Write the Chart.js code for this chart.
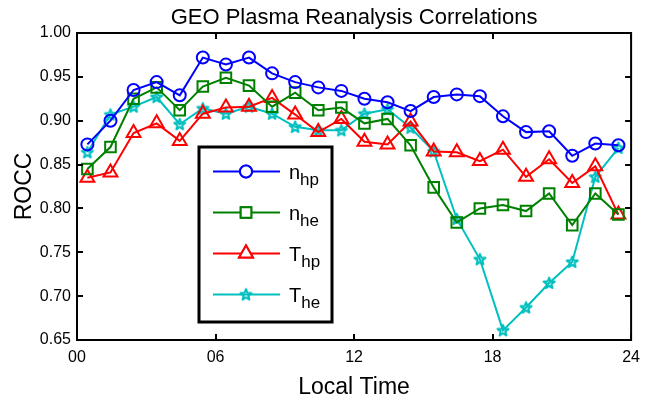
<!DOCTYPE html>
<html>
<head>
<meta charset="utf-8">
<title>GEO Plasma Reanalysis Correlations</title>
<script src="https://cdn.jsdelivr.net/npm/chart.js@4.4.1/dist/chart.umd.min.js"></script>
<style>
  html, body { margin: 0; padding: 0; background: #fff; }
  #wrap { width: 648px; height: 401px; }
</style>
</head>
<body>
<div id="wrap"><canvas id="rocc" width="648" height="401"></canvas></div>
<script>
// local time of each point (hours)
const localTime = [0.45, 1.45, 2.45, 3.45, 4.45, 5.45, 6.45, 7.45, 8.45, 9.45, 10.45, 11.45,
                   12.45, 13.45, 14.45, 15.45, 16.45, 17.45, 18.45, 19.45, 20.45, 21.45, 22.45, 23.45];

const nHp = [0.873, 0.900, 0.935, 0.944, 0.929, 0.972, 0.964, 0.972, 0.954, 0.944, 0.938, 0.934,
             0.925, 0.921, 0.911, 0.927, 0.930, 0.928, 0.905, 0.887, 0.888, 0.860, 0.874, 0.872];
const nHe = [0.845, 0.870, 0.925, 0.938, 0.912, 0.939, 0.949, 0.940, 0.916, 0.932, 0.912, 0.915,
             0.897, 0.902, 0.872, 0.824, 0.784, 0.800, 0.804, 0.797, 0.817, 0.781, 0.817, 0.793];
const tHp = [0.835, 0.841, 0.886, 0.897, 0.877, 0.908, 0.915, 0.916, 0.926, 0.907, 0.887, 0.902,
             0.876, 0.873, 0.899, 0.865, 0.864, 0.854, 0.867, 0.836, 0.856, 0.829, 0.848, 0.793];
const tHe = [0.864, 0.907, 0.916, 0.927, 0.896, 0.914, 0.908, 0.916, 0.908, 0.893, 0.889, 0.889,
             0.908, 0.913, 0.892, 0.865, 0.788, 0.742, 0.661, 0.687, 0.715, 0.739, 0.836, 0.869];

const xTicks = [0, 6, 12, 18, 24];
const yTicks = [0.65, 0.70, 0.75, 0.80, 0.85, 0.90, 0.95, 1.00];

// legend names: main letter + subscript
const seriesNames = [["n", "hp"], ["n", "he"], ["T", "hp"], ["T", "he"]];
const chartTitle = "GEO Plasma Reanalysis Correlations";

const FONT = '"Liberation Sans", Arial, Helvetica, sans-serif';

// matlab style pentagram marker
function makeStar(color) {
    const c = document.createElement("canvas");
    c.width = 16;
    c.height = 16;
    const g = c.getContext("2d");
    g.strokeStyle = color;
    g.lineWidth = 2;
    g.lineJoin = "round";
    g.beginPath();
    for (let i = 0; i < 10; i++) {
        const r = i % 2 === 0 ? 5.8 : 2.4;
        const ang = -Math.PI / 2 + i * Math.PI / 5;
        const px = 8 + r * Math.cos(ang);
        const py = 8.4 + r * Math.sin(ang);
        if (i === 0) g.moveTo(px, py); else g.lineTo(px, py);
    }
    g.closePath();
    g.stroke();
    return c;
}

const starImg = makeStar("#00bfbf");

function toPoints(values) {
    return values.map((v, i) => ({x: localTime[i], y: v}));
}

function series(values, color, style, radius) {
    return {
        data: toPoints(values),
        borderColor: color,
        backgroundColor: "rgba(0,0,0,0)",
        borderWidth: 2,
        pointStyle: style,
        pointRadius: radius,
        pointBorderWidth: 2,
        pointBorderColor: color,
        pointBackgroundColor: "rgba(0,0,0,0)",
        tension: 0
    };
}

const datasets = [
    series(nHp, "#0000ff", "circle", 6),
    series(nHe, "#008000", "rect", 7.5),
    series(tHp, "#ff0000", "triangle", 8),
    series(tHe, "#00bfbf", starImg, 6)
];

// title centred over the axes box, not the whole canvas
const boxTitle = {
    id: "boxTitle",
    afterDraw(chart) {
        const {ctx, chartArea: a} = chart;
        ctx.save();
        ctx.fillStyle = "#000";
        ctx.font = "22px " + FONT;
        ctx.textAlign = "center";
        ctx.textBaseline = "alphabetic";
        ctx.fillText(chartTitle, (a.left + a.right) / 2, 24);
        ctx.restore();
    }
};

// box round the axes with inward ticks on all four sides
const frame = {
    id: "frame",
    afterDatasetsDraw(chart) {
        const {ctx, chartArea: a, scales: {x, y}} = chart;
        ctx.save();
        ctx.strokeStyle = "#000";
        ctx.lineWidth = 2;
        ctx.strokeRect(a.left, a.top, a.right - a.left, a.bottom - a.top);
        ctx.beginPath();
        for (const v of xTicks) {
            const px = Math.round(x.getPixelForValue(v));
            ctx.moveTo(px, a.bottom); ctx.lineTo(px, a.bottom - 6);
            ctx.moveTo(px, a.top); ctx.lineTo(px, a.top + 6);
        }
        for (const v of yTicks) {
            const py = Math.round(y.getPixelForValue(v));
            ctx.moveTo(a.left, py); ctx.lineTo(a.left + 6, py);
            ctx.moveTo(a.right, py); ctx.lineTo(a.right - 6, py);
        }
        ctx.stroke();
        ctx.restore();
    }
};

// legend box with subscripts
const subLegend = {
    id: "subLegend",
    afterDraw(chart) {
        const ctx = chart.ctx;
        const box = {x: 199, y: 147, w: 133, h: 175};
        ctx.save();
        ctx.fillStyle = "#fff";
        ctx.fillRect(box.x, box.y, box.w, box.h);
        ctx.strokeStyle = "#000";
        ctx.lineWidth = 3;
        ctx.strokeRect(box.x, box.y, box.w, box.h);
        const rows = [171.5, 212.5, 253.5, 294.5];
        chart.data.datasets.forEach((ds, i) => {
            const yy = rows[i];
            ctx.strokeStyle = ds.borderColor;
            ctx.lineWidth = 2;
            ctx.beginPath();
            ctx.moveTo(213, yy);
            ctx.lineTo(280, yy);
            ctx.stroke();
            if (ds.pointStyle instanceof HTMLCanvasElement) {
                ctx.drawImage(ds.pointStyle, 246 - 8, yy - 8);
            } else {
                ctx.fillStyle = "#fff";
                Chart.helpers.drawPoint(ctx, {
                    pointStyle: ds.pointStyle, radius: ds.pointRadius, rotation: 0, borderWidth: 2
                }, 246, yy);
                ctx.fill();
                ctx.stroke();
            }
            ctx.fillStyle = "#000";
            ctx.textBaseline = "alphabetic";
            ctx.textAlign = "left";
            ctx.font = "20px " + FONT;
            ctx.fillText(seriesNames[i][0], 289, yy + 7);
            const w = ctx.measureText(seriesNames[i][0]).width;
            ctx.font = "17px " + FONT;
            ctx.fillText(seriesNames[i][1], 289 + w, yy + 13.5);
        });
        ctx.restore();
    }
};

new Chart(document.getElementById("rocc"), {
    type: "line",
    data: {datasets},
    plugins: [frame, subLegend, boxTitle],
    options: {
        responsive: false,
        animation: false,
        devicePixelRatio: 1,
        layout: {padding: {left: 0, right: 11, top: 33, bottom: 0}},
        plugins: {
            legend: {display: false},
            tooltip: {enabled: false},
            title: {display: false}
        },
        scales: {
            x: {
                type: "linear",
                min: 0,
                max: 24,
                afterBuildTicks: scale => { scale.ticks = xTicks.map(v => ({value: v})); },
                afterFit: scale => { scale.height = 61; },
                grid: {display: false, drawTicks: false},
                border: {display: false},
                ticks: {
                    color: "#000",
                    font: {family: FONT, size: 16},
                    padding: 8,
                    maxRotation: 0,
                    callback: v => String(v).padStart(2, "0")
                },
                title: {
                    display: true,
                    text: "Local Time",
                    color: "#000",
                    font: {family: FONT, size: 23},
                    padding: {top: 0, bottom: 0}
                }
            },
            y: {
                min: 0.65,
                max: 1.0,
                afterBuildTicks: scale => { scale.ticks = yTicks.map(v => ({value: v})); },
                afterFit: scale => { scale.width = 77; },
                grid: {display: false, drawTicks: false},
                border: {display: false},
                ticks: {
                    color: "#000",
                    font: {family: FONT, size: 16},
                    padding: 6,
                    callback: v => Number(v).toFixed(2)
                },
                title: {
                    display: true,
                    text: "ROCC",
                    color: "#000",
                    font: {family: FONT, size: 23},
                    padding: {top: 11, bottom: 0}
                }
            }
        }
    }
});
</script>
</body>
</html>
